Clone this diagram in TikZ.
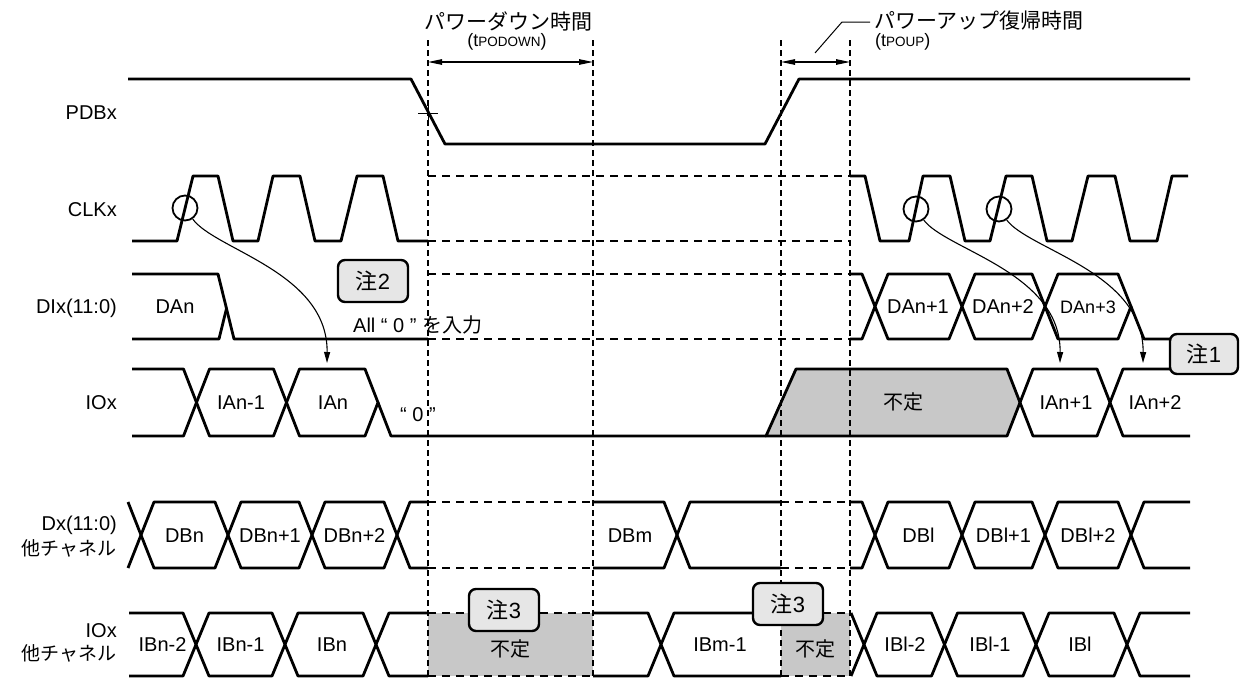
\documentclass[tikz,border=0pt]{standalone}
\usepackage{fontspec}
\setmainfont{Liberation Sans}
\newfontfamily\jp{Noto Sans CJK JP}
\usetikzlibrary{arrows.meta}
\definecolor{undefgray}{RGB}{200,200,200}
\definecolor{notefill}{RGB}{230,230,230}
\newcommand\fsz[1]{\fontsize{#1}{#1}\selectfont}
\newcommand\hexa[4]{\draw[sig] (#1,{(#3+#4)/2}) -- ({#1+13},#3) -- ({#2-13},#3) -- (#2,{(#3+#4)/2}) -- ({#2-13},#4) -- ({#1+13},#4) -- cycle;}
\newcommand\openR[4]{\draw[sig] (#1,#3) -- ({#2-13},#3) -- (#2,{(#3+#4)/2}) -- ({#2-13},#4) -- (#1,#4);}
\newcommand\openL[4]{\draw[sig] (#2,#3) -- ({#1+13},#3) -- (#1,{(#3+#4)/2}) -- ({#1+13},#4) -- (#2,#4);}
\begin{document}
\begin{tikzpicture}[x=1pt,y=-1pt,
  sig/.style={line width=2.8pt, line join=round},
  vdash/.style={line width=1.1pt, dash pattern=on 6pt off 4pt},
  hdash/.style={line width=2pt, dash pattern=on 8pt off 6pt},
  dim/.style={line width=1.1pt, {Triangle[length=14pt,width=5.5pt]}-{Triangle[length=14pt,width=5.5pt]}},
  leader/.style={line width=1pt},
  curv/.style={line width=1.1pt, -{Triangle[length=11pt,width=6pt]}},
  circ/.style={circle, draw, line width=1.8pt, minimum size=25pt, inner sep=0pt},
  lbl/.style={font=\fsz{20}, inner sep=0pt, anchor=east, text height=14.3pt, text depth=0pt},
  dat/.style={font=\fsz{20}, inner sep=0pt, text height=14.3pt, text depth=0pt},
  jpt/.style={font=\jp\fsz{21}, inner sep=0pt},
  note/.style={draw, line width=2.4pt, fill=notefill, rounded corners=7pt, minimum width=70pt, minimum height=42pt, inner sep=0pt, font=\fsz{22}},
]
\useasboundingbox (0,0) rectangle (1240,678);

% undefined (gray) regions
\fill[undefgray] (428,613) rectangle (593,676);
\fill[undefgray] (781,613) rectangle (850,676);
\fill[undefgray] (766,436) -- (796,369) -- (1007,369) -- (1020,402.5) -- (1007,436) -- cycle;

% vertical dashed timing lines
\foreach \x in {428,593,781,850} \draw[vdash] (\x,40) -- (\x,676);

% dimension arrows and titles
\coordinate (pdA) at (428,62); \coordinate (pdB) at (593,62);
\draw[dim] (pdA) -- (pdB);
\coordinate (puA) at (781,62); \coordinate (puB) at (850,62);
\draw[dim] (puA) -- (puB);
\node[jpt] (t1) at (508,21) {パワーダウン時間};
\node[font=\fsz{18}, inner sep=0pt] (t1s) at (507,42) {(t{\fsz{13.5}PODOWN})};
\node[jpt, anchor=west] (t2) at (874,21) {パワーアップ復帰時間};
\node[font=\fsz{18}, inner sep=0pt, anchor=west] (t2s) at (875,42) {(t{\fsz{13.5}POUP})};
\coordinate (ldA) at (815,53); \coordinate (ldB) at (842,22); \coordinate (ldC) at (870,22);
\draw[leader] (ldA) -- (ldB) -- (ldC);

% PDBx
\draw[sig] (128,79) -- (411,79) -- (445,144) -- (765,144) -- (799,79) -- (1190,79);
\draw[line width=1pt] (418,113) -- (438,113) (428,104) -- (428,122);

% CLKx
\draw[sig] (132,241) -- (177,241) -- (193,176) -- (218,176) -- (233,241) -- (258,241) -- (273,176) -- (300,176) -- (315,241) -- (341,241) -- (357,176) -- (383,176) -- (398,241) -- (428,241);
\draw[hdash] (428,176) -- (850,176) (428,241) -- (850,241);
\draw[sig] (850,176) -- (865,176) -- (880,241) -- (909,241) -- (923,176) -- (950,176) -- (965,241) -- (990,241) -- (1006,176) -- (1032,176) -- (1047,241) -- (1072,241) -- (1088,176) -- (1115,176) -- (1130,241) -- (1157,241) -- (1172,176) -- (1188,176);

% DIx
\draw[sig] (132,274) -- (218,274) -- (234,339) -- (428,339);
\draw[sig] (132,339) -- (219,339) -- (226.5,308.5);
\draw[hdash] (428,274) -- (850,274) (428,339) -- (850,339);
\openR{850}{875}{274}{339}
\hexa{875}{962}{274}{339}
\hexa{962}{1045}{274}{339}
\hexa{1045}{1131}{274}{339}
\draw[sig] (1131,306.5) -- (1144,339) -- (1190,339);

% IOx
\openR{132}{196.5}{369}{436}
\hexa{196.5}{286.5}{369}{436}
\draw[sig] (286.5,402.5) -- (299.5,369) -- (365,369) -- (378,402.5) -- (365,436) -- (299.5,436) -- cycle;
\draw[sig] (378,402.5) -- (391,436) -- (766,436);
\draw[sig] (766,436) -- (796,369) -- (1007,369) -- (1020,402.5) -- (1007,436) -- cycle;
\hexa{1020}{1110}{369}{436}
\openL{1110}{1190}{369}{436}

% Dx (other channels)
\draw[sig] (128,502) -- (141,535) -- (128,568);
\hexa{141}{228}{502}{568}
\hexa{228}{312}{502}{568}
\hexa{312}{397}{502}{568}
\openL{397}{428}{502}{568}
\draw[hdash] (428,502) -- (593,502) (428,568) -- (593,568);
\openR{593}{677}{502}{568}
\openL{677}{781}{502}{568}
\draw[hdash] (781,502) -- (850,502) (781,568) -- (850,568);
\openR{850}{875}{502}{568}
\hexa{875}{962}{502}{568}
\hexa{962}{1045}{502}{568}
\hexa{1045}{1131}{502}{568}
\openL{1131}{1190}{502}{568}

% IOx (other channels)
\openR{129}{196}{613}{676}
\hexa{196}{285}{613}{676}
\hexa{285}{376}{613}{676}
\openL{376}{428}{613}{676}
\draw[hdash] (428,613) -- (593,613) (428,676) -- (593,676);
\openR{593}{661}{613}{676}
\openL{661}{781}{613}{676}
\draw[hdash] (781,613) -- (850,613) (781,676) -- (850,676);
\draw[sig] (851,613) -- (864,644.5) -- (851,676);
\hexa{864}{944.5}{613}{676}
\hexa{944.5}{1036}{613}{676}
\hexa{1036}{1127}{613}{676}
\openL{1127}{1190}{613}{676}

% clock edge markers and arrows
\node[circ] (c1) at (185,208) {};
\node[circ] (c2) at (916,209) {};
\node[circ] (c3) at (999,209) {};
\coordinate (e1) at (327,363);
\coordinate (e2) at (1060,363);
\coordinate (e3) at (1143,363);
\draw[curv] (c1.-55) .. controls (215,250) and (328,272) .. (e1);
\draw[curv] (c2.-55) .. controls (946,250) and (1061,272) .. (e2);
\draw[curv] (c3.-55) .. controls (1029,250) and (1144,272) .. (e3);

% row labels
\node[lbl] (lPDB) at (117,112) {PDBx};
\node[lbl] (lCLK) at (117,209) {CLKx};
\node[lbl] (lDI) at (117,306) {DIx(11:0)};
\node[lbl] (lIO) at (117,402) {IOx};
\node[lbl] (lDx) at (117,523) {Dx(11:0)};
\node[lbl] (lDx2) at (117,548) {\jp\fsz{19}他チャネル};
\node[lbl] (lIOo) at (117,630) {IOx};
\node[lbl] (lIOo2) at (117,653) {\jp\fsz{19}他チャネル};

% data labels
\node[dat] (dDAn) at (175,306) {DAn};
\node[dat] (dDA1) at (918,306) {DAn+1};
\node[dat] (dDA2) at (1003,306) {DAn+2};
\node[dat, font=\fsz{18}] (dDA3) at (1088,306) {DAn+3};
\node[dat, anchor=west] (dAll) at (353,325) {All “ 0 ” {\jp を入力}};

\node[dat] (dIA0) at (241,402.5) {IAn-1};
\node[dat] (dIA1) at (333,402.5) {IAn};
\node[dat, anchor=west] (dZero) at (400,414) {“ 0 ”};
\node[dat, font=\jp\fsz{20}] (dUnd1) at (903,402.5) {不定};
\node[dat] (dIA2) at (1066,402.5) {IAn+1};
\node[dat] (dIA3) at (1155,402.5) {IAn+2};

\node[dat] (dDB0) at (184.5,535) {DBn};
\node[dat] (dDB1) at (270,535) {DBn+1};
\node[dat] (dDB2) at (354.5,535) {DBn+2};
\node[dat] (dDBm) at (630,535) {DBm};
\node[dat] (dDBl0) at (918.5,535) {DBl};
\node[dat] (dDBl1) at (1003.5,535) {DBl+1};
\node[dat] (dDBl2) at (1088,535) {DBl+2};

\node[dat] (dIB0) at (162.5,644.5) {IBn-2};
\node[dat] (dIB1) at (240.5,644.5) {IBn-1};
\node[dat] (dIB2) at (332,644.5) {IBn};
\node[dat, font=\jp\fsz{20}] (dUnd2) at (510,649) {不定};
\node[dat] (dIBm) at (720,644.5) {IBm-1};
\node[dat, font=\jp\fsz{20}] (dUnd3) at (815,649) {不定};
\node[dat] (dIBl0) at (905,644.5) {IBl-2};
\node[dat] (dIBl1) at (990,644.5) {IBl-1};
\node[dat] (dIBl2) at (1080,644.5) {IBl};

% notes
\node[note] (n2) at (373,281) {{\jp 注}2};
\node[note, minimum width=68pt, minimum height=40pt] (n1) at (1204,354) {{\jp 注}1};
\node[note] (n3a) at (504,610) {{\jp 注}3};
\node[note] (n3b) at (788,604) {{\jp 注}3};
\end{tikzpicture}
\end{document}
